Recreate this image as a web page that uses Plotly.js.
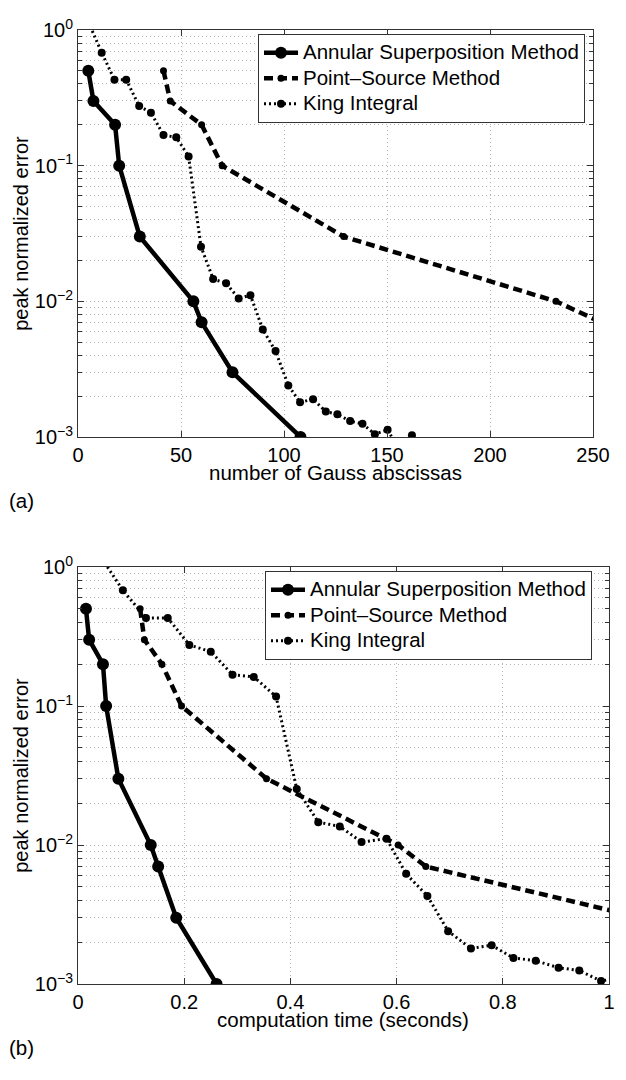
<!DOCTYPE html>
<html>
<head>
<meta charset="utf-8">
<script src="https://cdn.plot.ly/plotly-3.0.1.min.js"></script>
<style>html,body{margin:0;padding:0;background:#fff;}#chart{width:626px;height:1080px;}</style>
</head>
<body>
<div id="chart"></div>
<script>
// ---- data ----
const seriesNames = ["Annular Superposition Method", "Point\u2013Source Method", "King Integral"];

// shared error values (peak normalized error)
const errAnnular = [0.5, 0.3, 0.2, 0.1, 0.03, 0.01, 0.007, 0.003, 0.001];
const errPoint   = [0.5, 0.3, 0.2, 0.1, 0.03, 0.01, 0.007, 0.003];
const errKing    = [1.15, 0.68, 0.43, 0.43, 0.275, 0.246, 0.168, 0.162, 0.117, 0.0253, 0.0146, 0.0136,
                    0.0105, 0.0111, 0.0062, 0.0043, 0.0024, 0.0018, 0.0019, 0.00154, 0.00147, 0.00131,
                    0.00125, 0.00105, 0.00113, 0.0008, 0.00103];

// (a) number of Gauss abscissas
const gaussAnnular = [5, 7.5, 18, 20, 30, 56, 60, 75, 108];
const gaussPoint   = [41.5, 44.8, 60, 70, 129, 232, 254];
const gaussKing    = [5, 11.5, 17.7, 23.4, 29.7, 35.4, 41.5, 47.7, 53.7, 59.7, 65.6, 71.9, 78, 83.7,
                      89.7, 95.9, 102.1, 107.8, 114.1, 120.3, 125.9, 132.1, 138.1, 144.1, 150.3, 156, 162.1];

// (b) computation time (seconds)
const timeAnnular = [0.015, 0.021, 0.047, 0.053, 0.076, 0.137, 0.151, 0.185, 0.261];
const timePoint   = [0.117, 0.125, 0.158, 0.195, 0.355, 0.603, 0.655, 1.06];
const timeKing    = [0.045, 0.0845, 0.128, 0.169, 0.2097, 0.25, 0.291, 0.331, 0.373, 0.412, 0.4525, 0.493,
                     0.534, 0.581, 0.618, 0.658, 0.697, 0.74, 0.779, 0.82, 0.862, 0.905, 0.944, 0.985,
                     1.03, 1.07, 1.11];

// tick labels and titles
const yTickVals = [1, 0.1, 0.01, 0.001];
const yTickText = ["10<sup>0</sup>", "10<sup>\u22121</sup>", "10<sup>\u22122</sup>", "10<sup>\u22123</sup>"];
const xTickVals_a = [0, 50, 100, 150, 200, 250];
const xTickVals_b = [0, 0.2, 0.4, 0.6, 0.8, 1];
const xTickText_b = ["0", "0.2", "0.4", "0.6", "0.8", "1"];
const xTitles = ["number of Gauss abscissas", "computation time (seconds)"];
const yTitle = "peak normalized error";
const panelLabels = ["(a)", "(b)"];
const yMinorVals = [];
[0.001, 0.01, 0.1].forEach(d => { for (let k = 2; k <= 9; k++) yMinorVals.push(+(d * k).toPrecision(3)); });

// ---- styling ----
const FONT = "Liberation Sans, Arial, Helvetica, sans-serif";
const W = 626, H = 1080;
const styles = [
  {line: {color: "#000", width: 4.5, dash: "solid"}, marker: {symbol: "circle", size: 12, color: "#000"}},
  {line: {color: "#000", width: 4.5, dash: "9px,5px"}, marker: {symbol: "circle", size: 7, color: "#000"}},
  {line: {color: "#000", width: 3, dash: "2px,3px"}, marker: {symbol: "circle", size: 8, color: "#000"}}
];
const legendText = n => "<span style='font-size:20.5px'>" + n + "</span>";

function mk(i, x, y, xa, ya, leg) {
  return {x: x, y: y, type: "scatter", mode: "lines+markers", name: legendText(seriesNames[i]),
          xaxis: xa, yaxis: ya, legend: leg, line: styles[i].line, marker: styles[i].marker,
          cliponaxis: true};
}

const data = [
  mk(0, gaussAnnular, errAnnular, "x", "y", "legend"),
  mk(1, gaussPoint, errPoint.slice(0, gaussPoint.length), "x", "y", "legend"),
  mk(2, gaussKing, errKing, "x", "y", "legend"),
  mk(0, timeAnnular, errAnnular, "x2", "y2", "legend2"),
  mk(1, timePoint, errPoint, "x2", "y2", "legend2"),
  mk(2, timeKing, errKing, "x2", "y2", "legend2")
];

const gridCol = "#b4b4b4";
function xAxis(domain, anchor, range, tv, tt) {
  const a = {domain: domain, anchor: anchor, range: range, tickmode: "array", tickvals: tv,
    ticks: "inside", ticklen: 6, tickcolor: "#333", showline: true, linecolor: "#333", linewidth: 1,
    mirror: "ticks", showgrid: true, gridcolor: gridCol, griddash: "1px,3px", gridwidth: 1,
    zeroline: false, automargin: false, tickfont: {family: FONT, size: 20, color: "#000"}};
  if (tt) a.ticktext = tt;
  return a;
}
function yAxis(domain, anchor) {
  return {domain: domain, anchor: anchor, type: "log", range: [-3, 0], tickmode: "array",
    tickvals: yTickVals, ticktext: yTickText, ticks: "inside", ticklen: 6, tickcolor: "#333",
    showline: true, linecolor: "#333", linewidth: 1, mirror: "ticks", showgrid: true,
    gridcolor: gridCol, griddash: "1px,3px", gridwidth: 1, zeroline: false, automargin: false,
    tickfont: {family: FONT, size: 20, color: "#000"},
    minor: {tickmode: "array", tickvals: yMinorVals, ticks: "inside", ticklen: 4, tickcolor: "#333",
            showgrid: true, gridcolor: gridCol, griddash: "1px,3px", gridwidth: 1},
    title: {text: yTitle, font: {family: FONT, size: 20, color: "#000"}}};
}

const legendBase = {bgcolor: "#fff", bordercolor: "#333", borderwidth: 1,
  font: {family: FONT, size: 17.3, color: "#000"}, xanchor: "left", yanchor: "top",
  itemwidth: 34, tracegroupgap: 0, entrywidthmode: "pixels"};

function ann(text, xpx, ypx, xanchor) {
  return {text: text, xref: "paper", yref: "paper", x: xpx / W, y: 1 - ypx / H, xanchor: xanchor,
          yanchor: "middle", showarrow: false, font: {family: FONT, size: 20.5, color: "#000"}};
}

const layout = {
  width: W, height: H, margin: {l: 0, r: 0, t: 0, b: 0},
  paper_bgcolor: "#fff", plot_bgcolor: "#fff", showlegend: true,
  font: {family: FONT, size: 20, color: "#000"},
  xaxis: xAxis([78 / W, 593 / W], "y", [0, 250], xTickVals_a, null),
  yaxis: yAxis([1 - 437 / H, 1 - 30 / H], "x"),
  xaxis2: xAxis([78 / W, 609 / W], "y2", [0, 1], xTickVals_b, xTickText_b),
  yaxis2: yAxis([1 - 984 / H, 1 - 567 / H], "x2"),
  legend: Object.assign({}, legendBase, {x: 258 / W, y: 1 - 34 / H, entrywidth: 220}),
  legend2: Object.assign({}, legendBase, {x: 265 / W, y: 1 - 571 / H, entrywidth: 229}),
  annotations: [
    ann(xTitles[0], 335, 472, "center"),
    ann(xTitles[1], 343, 1019, "center"),
    ann(panelLabels[0], 7, 500, "left"),
    ann(panelLabels[1], 7, 1047, "left")
  ]
};

Plotly.newPlot("chart", data, layout, {staticPlot: true, displayModeBar: false});
</script>
</body>
</html>
